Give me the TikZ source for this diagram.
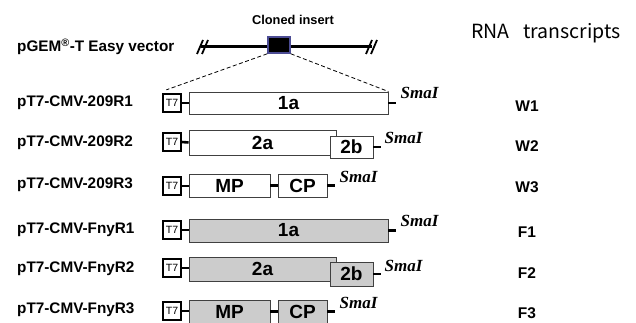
\documentclass[tikz,border=0pt]{standalone}
\usepackage{fontspec}
\setmainfont{Liberation Sans}
\newfontfamily\serifit{Liberation Serif}
\newfontfamily\krfont{Noto Sans CJK KR}
\begin{document}
\begin{tikzpicture}[x=1pt,y=-1pt,
 lbl/.style={font=\bfseries\fontsize{15.3}{16}\selectfont, inner sep=0, anchor=west},
 tsev/.style={draw, line width=1.8pt, fill=white, minimum width=17.5pt, minimum height=18.5pt, inner sep=0, font=\fontsize{10.5}{11}\selectfont},
 gene/.style={draw=black!75, line width=0.9pt, inner sep=0, font=\bfseries\fontsize{19}{20}\selectfont},
 wg/.style={gene, fill=white},
 fg/.style={gene, fill=black!20},
 stub/.style={line width=2.6pt},
 sma/.style={font=\serifit\bfseries\itshape\fontsize{17}{18}\selectfont, inner sep=0, anchor=base west},
 rna/.style={font=\bfseries\fontsize{15.5}{16}\selectfont, inner sep=0},
 hash/.style={line width=1.8pt},
 zoomline/.style={dashed, dash pattern=on 4pt off 2.5pt, line width=0.8pt}
]
\useasboundingbox (0,0) rectangle (636,323);

% header
\node[font=\bfseries\fontsize{12.8}{13}\selectfont, inner sep=0] (clo) at (293,20) {Cloned insert};
\node[lbl] (pgem) at (17,47) {pGEM\textsuperscript{®}-T Easy vector};
\node[font=\krfont\fontsize{19.5}{20}\selectfont, inner sep=0] (rnat) at (546,33) {RNA\hspace{14pt}transcripts};

\node[draw=blue!40!black!70, fill=black, line width=1.6pt, minimum width=22pt, minimum height=16pt, inner sep=0] (ins) at (279,45) {};
\coordinate (vl) at (201,47);
\coordinate (vr) at (372,47);
\draw[line width=3pt] (vl) -- (ins.west |- vl);
\draw[line width=3pt] (ins.east |- vr) -- (vr);
\draw[hash] (197,54) -- (203,40);
\draw[hash] (202,54) -- (208,40);
\draw[hash] (366,54) -- (372,40);
\draw[hash] (371,54) -- (377,40);

% row 1
\node[lbl] (l1) at (17,103) {pT7-CMV-209R1};
\node[tsev] (t1) at (172,103) {T7};
\node[wg, minimum width=199pt, minimum height=22pt] (a1) at (288.5,103) {1a};
\draw[stub] (t1.east) -- (a1.west);
\coordinate (e1) at ([xshift=8pt]a1.east);
\draw[stub] (a1.east) -- (e1);
\node[sma] (s1) at ([xshift=4pt,yshift=4pt]e1) {SmaI};
\node[rna] (r1) at (527,106) {W1};
\draw[zoomline] (ins.south west) -- ([xshift=4pt,yshift=3pt]t1.north west);
\draw[zoomline] (ins.south east) -- (a1.north east);

% row 2
\node[lbl] (l2) at (17,143) {pT7-CMV-209R2};
\node[tsev] (t2) at (172,142) {T7};
\node[wg, minimum width=147pt, minimum height=25pt] (a2) at (262.5,142.5) {2a};
\node[wg, minimum width=43pt, minimum height=22pt] (b2) at (351.5,147) {2b};
\draw[stub] (t2.east) -- (a2.west);
\coordinate (e2) at ([xshift=8pt]b2.east);
\draw[stub] (b2.east) -- (e2);
\node[sma] (s2) at ([xshift=3pt,yshift=3pt]e2) {SmaI};
\node[rna] (r2) at (527,146) {W2};

% row 3
\node[lbl] (l3) at (17,185) {pT7-CMV-209R3};
\node[tsev] (t3) at (172,186) {T7};
\node[wg, minimum width=81pt, minimum height=23pt] (m3) at (229.5,185.5) {MP};
\node[wg, minimum width=49pt, minimum height=23pt] (c3) at (302.5,185.5) {CP};
\draw[stub] (t3.east) -- (t3.east -| m3.west);
\draw[stub] (m3.east) -- (c3.west);
\coordinate (e3) at ([xshift=8pt]c3.east);
\draw[stub] (c3.east) -- (e3);
\node[sma] (s3) at ([xshift=4pt,yshift=3pt]e3) {SmaI};
\node[rna] (r3) at (527,187) {W3};

% row 4
\node[lbl] (l4) at (17,230) {pT7-CMV-FnyR1};
\node[tsev] (t4) at (172,230) {T7};
\node[fg, minimum width=199pt, minimum height=23pt] (a4) at (288.5,230.5) {1a};
\draw[stub] (t4.east) -- (t4.east -| a4.west);
\coordinate (e4) at ([xshift=8pt]a4.east);
\draw[stub] (a4.east) -- (e4);
\node[sma] (s4) at ([xshift=4pt,yshift=4pt]e4) {SmaI};
\node[rna] (r4) at (527,232) {F1};

% row 5
\node[lbl] (l5) at (17,269) {pT7-CMV-FnyR2};
\node[tsev] (t5) at (172,268) {T7};
\node[fg, minimum width=147pt, minimum height=24pt] (a5) at (262.5,269) {2a};
\node[fg, minimum width=43pt, minimum height=24pt] (b5) at (351.5,274) {2b};
\draw[stub] (t5.east) -- (t5.east -| a5.west);
\coordinate (e5) at ([xshift=8pt]b5.east);
\draw[stub] (b5.east) -- (e5);
\node[sma] (s5) at ([xshift=3pt,yshift=3pt]e5) {SmaI};
\node[rna] (r5) at (527,273) {F2};

% row 6
\node[lbl] (l6) at (17,310) {pT7-CMV-FnyR3};
\node[tsev] (t6) at (172,311) {T7};
\node[fg, minimum width=81pt, minimum height=23pt] (m6) at (229.5,311.5) {MP};
\node[fg, minimum width=49pt, minimum height=23pt] (c6) at (302.5,311.5) {CP};
\draw[stub] (t6.east) -- (t6.east -| m6.west);
\draw[stub] (m6.east) -- (c6.west);
\coordinate (e6) at ([xshift=8pt]c6.east);
\draw[stub] (c6.east) -- (e6);
\node[sma] (s6) at ([xshift=4pt,yshift=3pt]e6) {SmaI};
\node[rna] (r6) at (527,313) {F3};
\end{tikzpicture}
\end{document}
